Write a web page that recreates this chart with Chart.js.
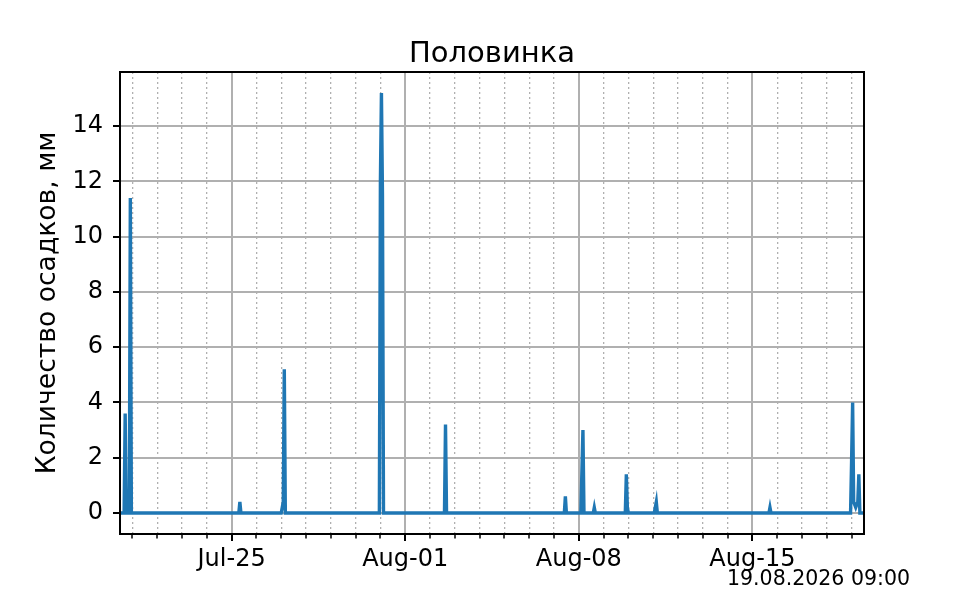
<!DOCTYPE html>
<html>
<head>
<meta charset="utf-8">
<script src="https://cdn.jsdelivr.net/npm/chart.js@4.4.1/dist/chart.umd.min.js"></script>
<style>
  html, body { margin: 0; padding: 0; background: #fff; }
  #wrap { width: 960px; height: 600px; }
</style>
</head>
<body>
<div id="wrap"><canvas id="myChart" width="960" height="600"></canvas></div>
<script>
const chartTitle = 'Половинка';
const yAxisLabel = 'Количество осадков, мм';
const stampText = '19.08.2026 09:00';

// hourly precipitation, only the hours around rain events (zeros in between)
const obsTimes = [
  '2026-07-20 12:00', '2026-07-20 16:00', '2026-07-20 17:00', '2026-07-20 18:00',
  '2026-07-20 21:00', '2026-07-20 22:00', '2026-07-20 23:00',
  '2026-07-25 07:00', '2026-07-25 08:00', '2026-07-25 09:00',
  '2026-07-27 00:00', '2026-07-27 01:00', '2026-07-27 02:00', '2026-07-27 03:00', '2026-07-27 04:00',
  '2026-07-30 23:00', '2026-07-31 00:00', '2026-07-31 01:00', '2026-07-31 02:00', '2026-07-31 03:00',
  '2026-08-02 14:00', '2026-08-02 15:00', '2026-08-02 16:00',
  '2026-08-07 10:00', '2026-08-07 11:00', '2026-08-07 12:00',
  '2026-08-08 02:00', '2026-08-08 03:00', '2026-08-08 04:00', '2026-08-08 05:00',
  '2026-08-08 14:00', '2026-08-08 15:00', '2026-08-08 16:00',
  '2026-08-09 21:00', '2026-08-09 22:00', '2026-08-09 23:00', '2026-08-10 00:00',
  '2026-08-11 01:00', '2026-08-11 02:00', '2026-08-11 03:00', '2026-08-11 04:00',
  '2026-08-15 16:00', '2026-08-15 17:00', '2026-08-15 18:00',
  '2026-08-18 23:00', '2026-08-19 00:00', '2026-08-19 01:00', '2026-08-19 02:00',
  '2026-08-19 03:00', '2026-08-19 04:00', '2026-08-19 05:00', '2026-08-19 06:00',
  '2026-08-19 07:00', '2026-08-19 08:00', '2026-08-19 12:00'
];
const obsValues = [
  0, 0, 3.6, 0,
  0, 11.4, 0,
  0, 0.4, 0,
  0, 0.2, 0.4, 5.2, 0,
  0, 12.0, 15.2, 11.5, 0,
  0, 3.2, 0,
  0, 0.6, 0,
  0, 1.5, 3.0, 0,
  0, 0.2, 0,
  0, 1.4, 0.2, 0,
  0, 0.2, 0.4, 0,
  0, 0.2, 0,
  0, 1.9, 4.0, 0.4,
  0.3, 0.2, 0.3, 0.4,
  1.4, 0, 0
];

const xStart = '2026-07-20 12:00';
const xEnd = '2026-08-19 12:00';
const majorDays = ['2026-07-25', '2026-08-01', '2026-08-08', '2026-08-15'];
const majorLabels = ['Jul-25', 'Aug-01', 'Aug-08', 'Aug-15'];
const yTicks = [0, 2, 4, 6, 8, 10, 12, 14];
const yMin = -0.76;
const yMax = 15.96;

// day number counted from 1 July (so 1 Aug = 32)
function toDay(stamp) {
  const [date, time] = stamp.split(' ');
  const [, month, day] = date.split('-').map(Number);
  const [hh, mm] = (time || '00:00').split(':').map(Number);
  return (month === 8 ? 31 : 0) + day + (hh + mm / 60) / 24;
}

const xMin = toDay(xStart);
const xMax = toDay(xEnd);
const majorValues = majorDays.map(toDay);
const dayTicks = [];
for (let d = Math.ceil(xMin); d <= Math.floor(xMax); d++) dayTicks.push(d);
const isMajor = v => majorValues.includes(v);

const points = obsTimes.map((t, i) => ({ x: toDay(t), y: obsValues[i] }));

const FONT = '"DejaVu Sans", "Liberation Sans", sans-serif';

const framePlugin = {
  id: 'frame',
  afterDatasetsDraw(chart) {
    const { ctx, chartArea: a, scales: { x, y } } = chart;
    ctx.save();
    ctx.strokeStyle = '#000';
    dayTicks.forEach(d => {
      const px = Math.round(x.getPixelForValue(d));
      const major = isMajor(d);
      ctx.lineWidth = major ? 2 : 1.5;
      ctx.beginPath();
      ctx.moveTo(px, a.bottom);
      ctx.lineTo(px, a.bottom + (major ? 7 : 4.5));
      ctx.stroke();
    });
    ctx.lineWidth = 2;
    yTicks.forEach(v => {
      const py = Math.round(y.getPixelForValue(v));
      ctx.beginPath();
      ctx.moveTo(a.left, py);
      ctx.lineTo(a.left - 7, py);
      ctx.stroke();
    });
    ctx.strokeRect(a.left, a.top, a.right - a.left, a.bottom - a.top);

    ctx.fillStyle = '#000';
    ctx.textBaseline = 'alphabetic';
    ctx.font = '29px ' + FONT;
    ctx.textAlign = 'center';
    ctx.fillText(chartTitle, (a.left + a.right) / 2, 62);
    ctx.font = '20.5px ' + FONT;
    ctx.textAlign = 'left';
    ctx.fillText(stampText, 727, 585);
    ctx.restore();
  }
};

function MainEvent() {
  const target = document.querySelector('#myChart');
  return new Chart(target, {
    type: 'line',
    data: {
      datasets: [{
        data: points,
        borderColor: '#1f77b4',
        backgroundColor: '#1f77b4',
        borderWidth: 3.4,
        pointRadius: 0,
        tension: 0,
        fill: false
      }]
    },
    options: {
      responsive: false,
      animation: false,
      devicePixelRatio: 1,
      layout: { padding: { top: 72, right: 96, bottom: 0, left: 0 } },
      plugins: {
        legend: { display: false },
        tooltip: { enabled: false },
        title: { display: false }
      },
      scales: {
        x: {
          type: 'linear',
          min: xMin,
          max: xMax,
          afterBuildTicks: s => { s.ticks = dayTicks.map(v => ({ value: v })); },
          afterFit: s => { s.height = 66; },
          ticks: {
            autoSkip: false,
            maxRotation: 0,
            padding: 11,
            color: '#000',
            font: { family: FONT, size: 24 },
            callback: v => {
              const k = majorValues.indexOf(v);
              return k >= 0 ? majorLabels[k] : '';
            }
          },
          grid: {
            drawTicks: false,
            color: '#b0b0b0',
            lineWidth: c => (c.tick && isMajor(c.tick.value)) ? 2 : 1.3
          },
          border: {
            display: false,
            dash: c => (c.tick && !isMajor(c.tick.value)) ? [2, 3] : []
          }
        },
        y: {
          min: yMin,
          max: yMax,
          afterBuildTicks: s => { s.ticks = yTicks.map(v => ({ value: v })); },
          afterFit: s => { s.width = 120; },
          ticks: {
            padding: 17,
            color: '#000',
            font: { family: FONT, size: 24 }
          },
          grid: { drawTicks: false, color: '#b0b0b0', lineWidth: 2 },
          border: { display: false },
          title: {
            display: true,
            text: yAxisLabel,
            color: '#000',
            font: { family: FONT, size: 26.6 },
            padding: { top: 32.2, bottom: 0 }
          }
        }
      }
    },
    plugins: [framePlugin]
  });
}

document.addEventListener('DOMContentLoaded', () => MainEvent());
</script>
</body>
</html>
